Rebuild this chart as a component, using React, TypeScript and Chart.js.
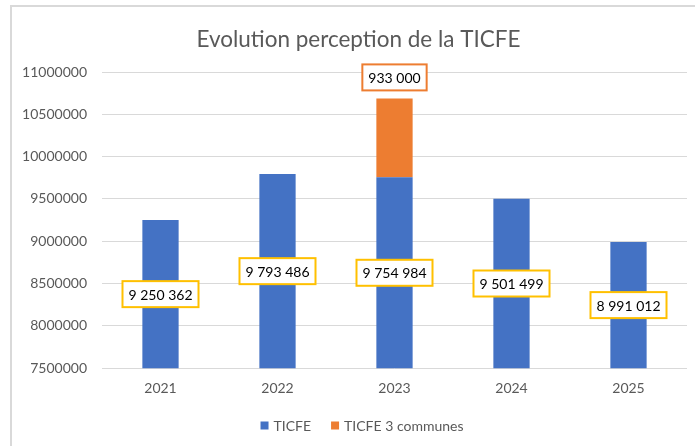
import React, { useEffect, useRef } from "react";
import { Chart, registerables } from "chart.js";

Chart.register(...registerables);

const titleText = "Evolution perception de la TICFE";
const years = ["2021", "2022", "2023", "2024", "2025"];
const ticfe = [9250362, 9793486, 9754984, 9501499, 8991012];
const ticfe3 = [null, null, 933000, null, null];
const yMin = 7500000;
const yMax = 11000000;
const yStep = 500000;

const FONT = "Lato, 'Noto Sans', sans-serif";

function fmt(v: number): string {
  return String(v).replace(/\B(?=(\d{3})+(?!\d))/g, " ");
}

const labelPlugin = {
  id: "boxLabels",
  afterDatasetsDraw(chart: any) {
    const ctx = chart.ctx;
    const area = chart.chartArea;
    ctx.save();
    ctx.font = "14px " + FONT;
    ctx.textAlign = "center";
    ctx.textBaseline = "middle";
    chart.data.datasets.forEach((ds: any, di: number) => {
      const meta = chart.getDatasetMeta(di);
      meta.data.forEach((bar: any, i: number) => {
        const v = ds.data[i];
        if (v === null || v === undefined) return;
        const text = fmt(v);
        const w = ctx.measureText(text).width + 12;
        const h = 26;
        let cy: number;
        let border: string;
        if (di === 0) {
          const base = Math.min(bar.base, area.bottom);
          cy = (bar.y + base) / 2;
          border = "#FFC000";
        } else {
          cy = bar.y - 21;
          border = "#ED7D31";
        }
        const cx = bar.x;
        ctx.fillStyle = "#ffffff";
        ctx.fillRect(cx - w / 2, cy - h / 2, w, h);
        ctx.lineWidth = 2;
        ctx.strokeStyle = border;
        ctx.strokeRect(cx - w / 2, cy - h / 2, w, h);
        ctx.fillStyle = "#000000";
        ctx.fillText(text, cx, cy + 1);
      });
    });
    ctx.restore();
  },
};

const frameTextPlugin = {
  id: "frameText",
  afterDraw(chart: any) {
    const ctx = chart.ctx;
    ctx.save();
    // title
    ctx.font = "22.5px " + FONT;
    ctx.fillStyle = "#595959";
    ctx.textAlign = "center";
    ctx.textBaseline = "middle";
    ctx.fillText(titleText, 358.5, 40);
    // legend
    ctx.font = "14px " + FONT;
    ctx.textAlign = "left";
    const box = 8;
    const gapBox = 5;
    const gapItem = 20;
    const items = chart.data.datasets.map((d: any) => ({
      label: d.label,
      color: d.backgroundColor,
      w: ctx.measureText(d.label).width,
    }));
    let total = 0;
    items.forEach((it: any, i: number) => {
      total += box + gapBox + it.w + (i < items.length - 1 ? gapItem : 0);
    });
    let x = 362 - total / 2;
    const cy = 425.5;
    items.forEach((it: any) => {
      ctx.fillStyle = it.color;
      ctx.fillRect(x, cy - box / 2, box, box);
      x += box + gapBox;
      ctx.fillStyle = "#595959";
      ctx.fillText(it.label, x, cy + 0.5);
      x += it.w + gapItem;
    });
    ctx.restore();
  },
};

export default function App() {
  const ref = useRef<HTMLCanvasElement | null>(null);
  useEffect(() => {
    if (!ref.current) return;
    const chart = new Chart(ref.current, {
      type: "bar",
      data: {
        labels: years,
        datasets: [
          {
            label: "TICFE",
            data: ticfe,
            backgroundColor: "#4472C4",
            barPercentage: 0.31,
            categoryPercentage: 1,
          },
          {
            label: "TICFE 3 communes",
            data: ticfe3 as any,
            backgroundColor: "#ED7D31",
            barPercentage: 0.31,
            categoryPercentage: 1,
          },
        ],
      },
      options: {
        responsive: false,
        animation: false,
        layout: { padding: { left: 0, right: 8, top: 72, bottom: 37 } },
        plugins: {
          title: { display: false },
          legend: { display: false },
          tooltip: { enabled: false },
        },
        scales: {
          x: {
            stacked: true,
            grid: { display: false, drawTicks: false },
            border: { display: false },
            ticks: {
              color: "#595959",
              font: { family: FONT, size: 14 },
              padding: 12,
            },
          },
          y: {
            stacked: true,
            min: yMin,
            max: yMax,
            border: { display: false },
            grid: { color: "#d9d9d9", lineWidth: 1, drawTicks: false },
            ticks: {
              stepSize: yStep,
              color: "#595959",
              font: { family: FONT, size: 14 },
              padding: 15,
              callback: (v: any) => String(v),
            },
            afterFit: (s: any) => {
              s.width = 102;
            },
          },
        },
      },
      plugins: [labelPlugin, frameTextPlugin],
    });
    return () => chart.destroy();
  }, []);
  return (
    <div>
      <div
        style={{
          position: "fixed",
          left: 10,
          top: 5,
          width: 720,
          height: 480,
          border: "2px solid #d9d9d9",
          boxSizing: "border-box",
        }}
      />
      <canvas
        ref={ref}
        width={695}
        height={446}
        style={{ position: "fixed", left: 0, top: 0, width: 695, height: 446 }}
      />
    </div>
  );
}
